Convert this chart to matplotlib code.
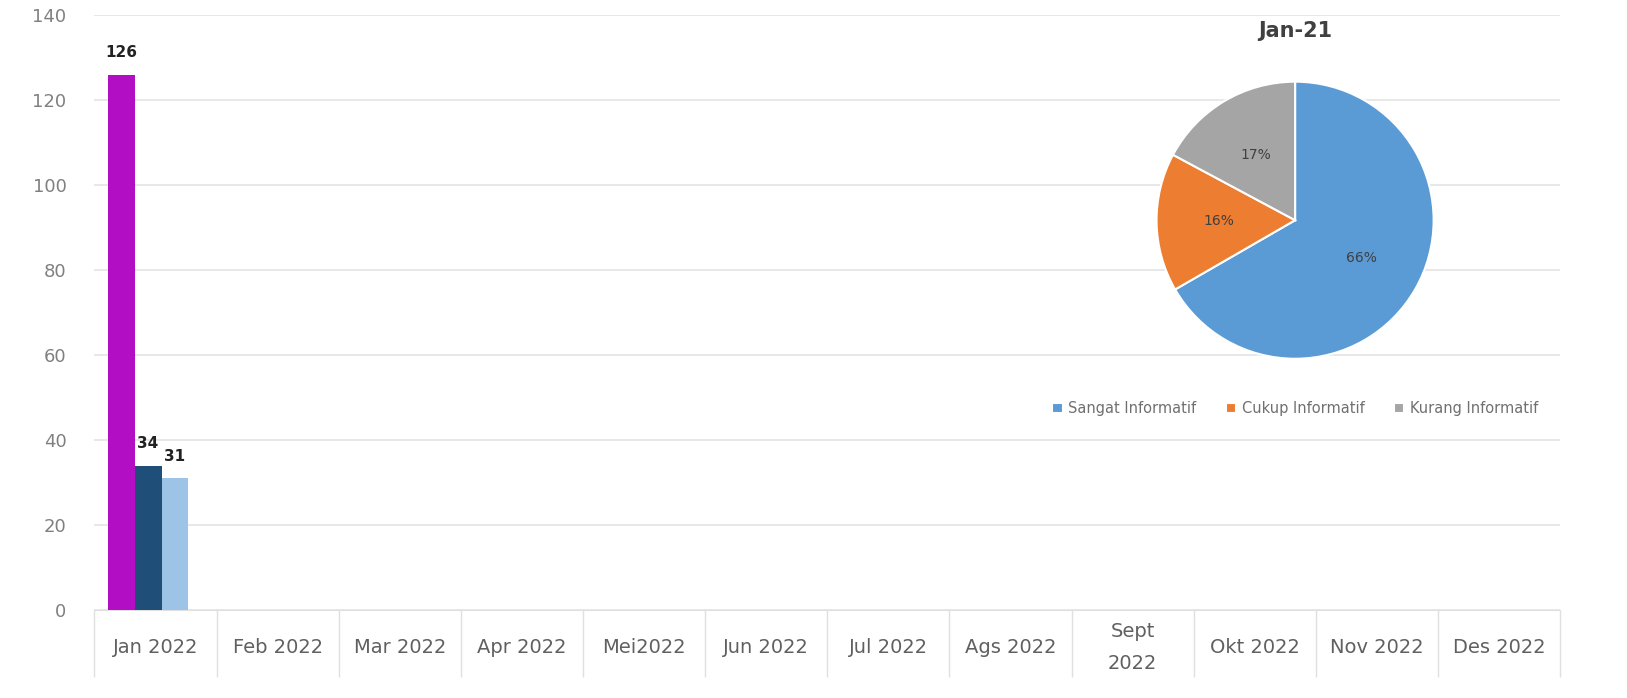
import numpy as np
import matplotlib.pyplot as plt

# data
months = ["Jan 2022", "Feb 2022", "Mar 2022", "Apr 2022", "Mei2022", "Jun 2022",
          "Jul 2022", "Ags 2022", "Sept\n2022", "Okt 2022", "Nov 2022", "Des 2022"]
sangat = [126] + [np.nan] * 11
cukup = [34] + [np.nan] * 11
kurang = [31] + [np.nan] * 11

pie_labels = ["Sangat Informatif", "Cukup Informatif", "Kurang Informatif"]
pie_pct = [66, 16, 17]
pie_title = "Jan-21"

bar_colors = ["#B20FC4", "#1F4E79", "#9DC3E6"]
pie_colors = ["#5B9BD5", "#ED7D31", "#A5A5A5"]

fig = plt.figure(figsize=(16.27, 6.98), dpi=100)
ax = fig.add_axes([0.058, 0.126, 0.901, 0.852])

x = np.arange(len(months))
w = 0.22
for i, (vals, c) in enumerate(zip([sangat, cukup, kurang], bar_colors)):
    pos = x + (i - 1) * w - 0.06
    ax.bar(pos, vals, width=w, color=c, zorder=3)
    for p, v in zip(pos, vals):
        if not np.isnan(v):
            ax.text(p, v + 3.5, str(v), ha="center", va="bottom", fontsize=11,
                    fontweight="bold", color="#222222")

ax.set_xlim(-0.5, len(months) - 0.5)
ax.set_ylim(0, 140)
ax.set_yticks(range(0, 141, 20))
ax.grid(axis="y", color="#E4E4E4", linewidth=1.2, zorder=0)
for s in ["top", "right", "left"]:
    ax.spines[s].set_visible(False)
ax.spines["bottom"].set_color("#E0E0E0")
ax.tick_params(axis="y", length=0, labelsize=13, labelcolor="#808080", pad=20)

# category separators below the axis
ax.set_xticks(np.arange(len(months) + 1) - 0.5, minor=True)
ax.tick_params(axis="x", which="minor", length=48, color="#E0E0E0", width=1)
ax.set_xticks(x)
ax.set_xticklabels(months, linespacing=1.9)
ax.tick_params(axis="x", which="major", length=0, labelsize=14, labelcolor="#606060", pad=27)
for lab in ax.get_xticklabels():
    lab.set_va("center")

# pie inset
pax = fig.add_axes([0.71, 0.484, 0.172, 0.401])
wedges, _ = pax.pie(pie_pct, colors=pie_colors, startangle=90, counterclock=False,
                    wedgeprops=dict(edgecolor="white", linewidth=1.5))
for wdg, pct in zip(wedges, pie_pct):
    ang = np.deg2rad((wdg.theta1 + wdg.theta2) / 2)
    r = 0.55
    pax.text(r * np.cos(ang), r * np.sin(ang), f"{pct}%", ha="center", va="center",
             fontsize=10, color="#404040")
pax.set_xlim(-1.01, 1.01)
pax.set_ylim(-1.01, 1.01)
pax.set_aspect("equal")
fig.text(0.796, 0.955, pie_title, ha="center", va="center", fontsize=15,
         fontweight="bold", color="#404040")
fig.legend(wedges, pie_labels, loc="center", bbox_to_anchor=(0.796, 0.415), ncol=3,
           frameon=False, fontsize=10.5, labelcolor="#707070", handlelength=0.7,
           handleheight=0.7, columnspacing=2.0, handletextpad=0.4)

fig.savefig("out.png", dpi=100, facecolor="white")
